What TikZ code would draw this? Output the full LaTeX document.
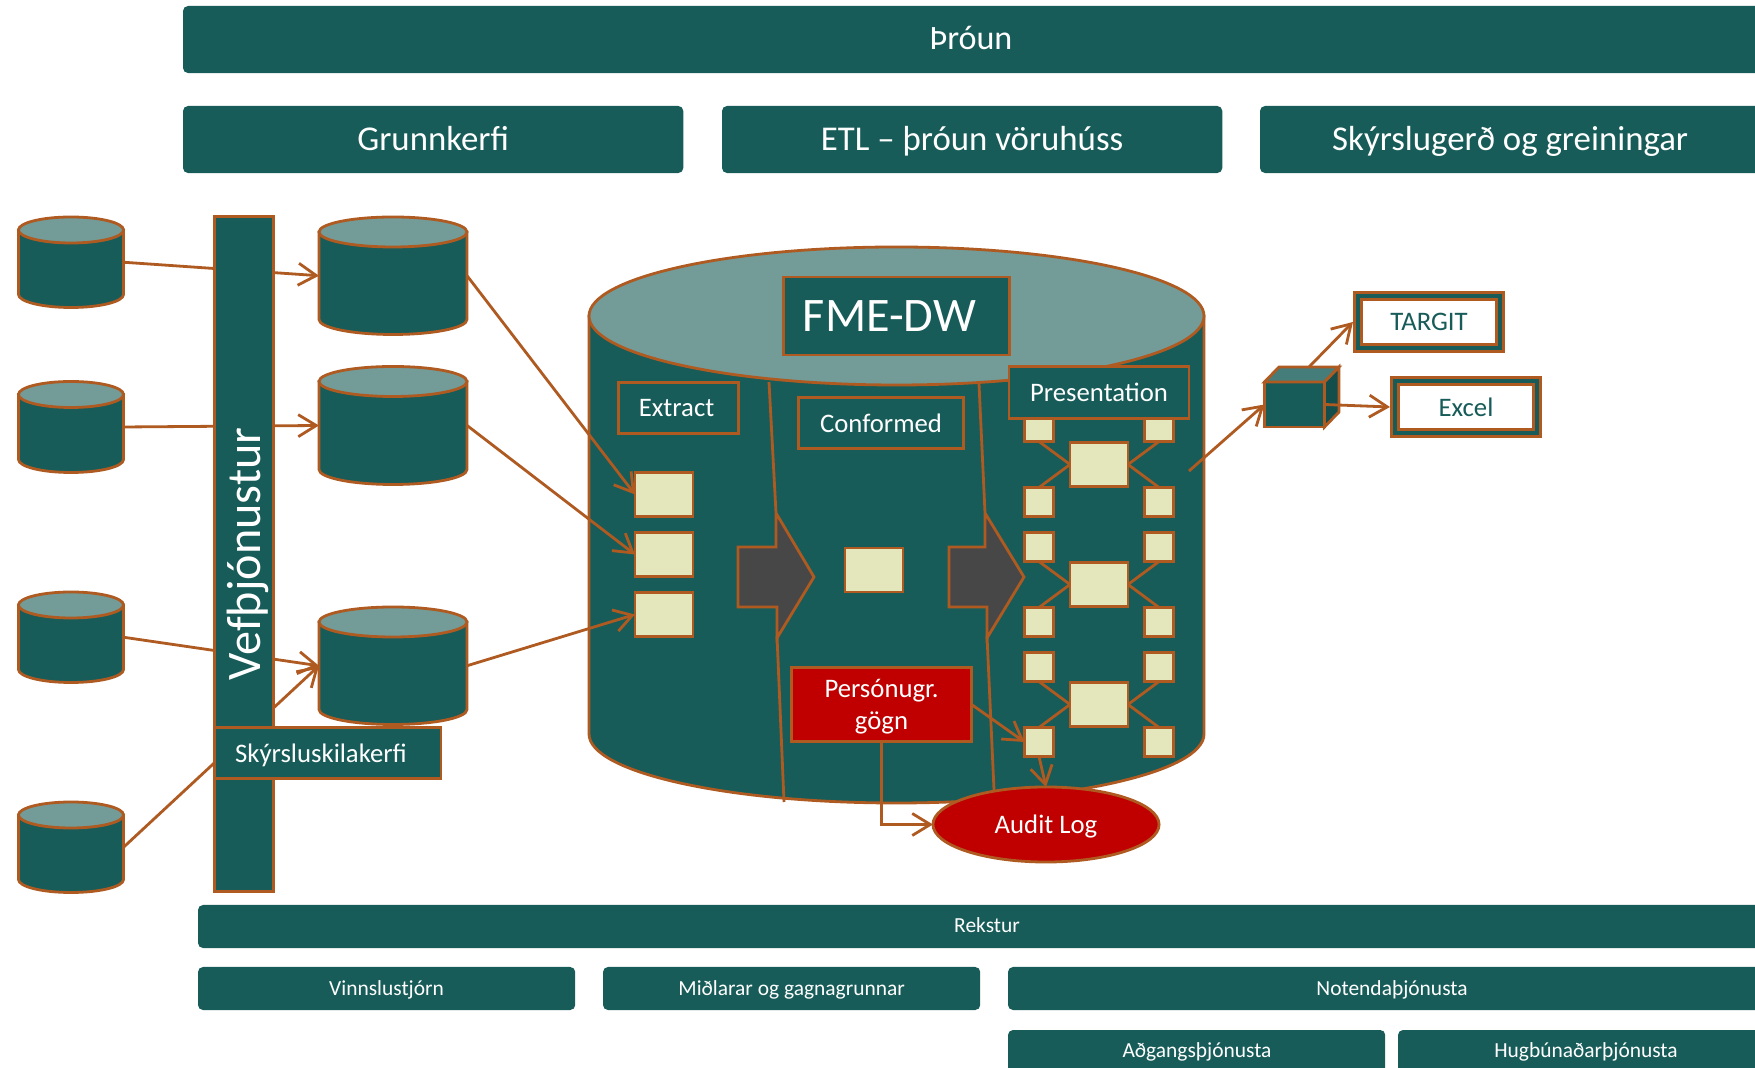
\documentclass[tikz,border=0pt]{standalone}
\usepackage{fontspec}
\setmainfont{Carlito}
\usetikzlibrary{positioning, shapes.geometric, arrows.meta}
\definecolor{tealdark}{HTML}{175C59}
\definecolor{teallight}{HTML}{739C99}
\definecolor{rust}{HTML}{AE5A21}
\definecolor{cream}{HTML}{E4E7BC}
\definecolor{greyarrow}{HTML}{474747}
\definecolor{redbox}{HTML}{C00000}
\tikzset{
    layerbig/.style={fill=tealdark, text=white, rounded corners=0.05cm, inner sep=0pt, outer sep=0pt, text height=1.4ex, text depth=0.1ex, font=\fontsize{9.9}{11}\selectfont},
    layersmall/.style={layerbig, text depth=0.6ex, font=\fontsize{6.1}{7}\selectfont},
    tagbox/.style={draw=rust, line width=0.28mm, fill=tealdark, text=white, inner sep=0pt, outer sep=0pt, text depth=0pt, font=\fontsize{7.6}{9.3}\selectfont},
    redtag/.style={tagbox, fill=redbox},
    sqbig/.style={draw=rust, line width=0.28mm, fill=cream, inner sep=0pt, outer sep=0pt, minimum width=0.58cm, minimum height=0.44cm},
    sqsmall/.style={sqbig, minimum width=0.29cm, minimum height=0.29cm},
    dbanchor/.style={inner sep=0pt, outer sep=0pt},
    dbline/.style={draw=rust, line width=0.28mm},
    toolbox/.style={draw=rust, double=tealdark, line width=0.28mm, double distance=0.4mm, fill=white, text=tealdark, inner sep=0pt, outer sep=0.5mm, minimum width=1.42cm, minimum height=0.52cm, font=\fontsize{7.6}{9.3}\selectfont},
    flow/.style={draw=rust, line width=0.28mm, -{Straight Barb[length=1.8mm, width=2.2mm]}},
    link/.style={draw=rust, line width=0.28mm},
    stagearrow/.style={draw=rust, line width=0.28mm, fill=greyarrow},
}
\newcommand{\dbcan}[6]{
        \draw[dbline, fill=tealdark] (#2-#5,#3+#6) -- (#2-#5,#4-#6) arc[start angle=180, end angle=0, x radius=#5, y radius=#6] -- (#2+#5,#3+#6) -- cycle;
        \draw[dbline, fill=teallight] (#2,#3+#6) ellipse [x radius=#5, y radius=#6];
        \node[dbanchor, minimum width=#5*0.02cm, minimum height=(#4-#3)*0.01cm] (#1) at (#2,{(#3+#4)/2}) {};
}
\begin{document}
\begin{tikzpicture}[x=0.01cm, y=-0.01cm]
        \clip (0,0) rectangle (1755,1068);
        \useasboundingbox (0,0) rectangle (1755,1068);

        \node[layerbig, minimum width=15.9cm, minimum height=0.67cm, anchor=north west] (throun) at (183,6) {};
        \node at (971,38) [text=white, font=\fontsize{9.7}{11}\selectfont] (thrountext) {Þróun};
        \node[layerbig, minimum width=5cm, minimum height=0.67cm, anchor=north west] (grunn) at (183,106) {Grunnkerfi};
        \node[layerbig, minimum width=5cm, minimum height=0.67cm, anchor=north west] (etl) at (722,106) {ETL – þróun vöruhúss};
        \node[layerbig, minimum width=5cm, minimum height=0.67cm, anchor=north west] (skyrslur) at (1260,106) {Skýrslugerð og greiningar};

        \dbcan{dbone}{71}{217}{307.5}{52.5}{13}
        \dbcan{dbtwo}{71}{381.5}{472.5}{52.5}{13}
        \dbcan{dbthree}{71}{592}{682.5}{52.5}{13}
        \dbcan{dbfour}{71}{802}{892.5}{52.5}{13}
        \dbcan{midone}{393}{217}{334.5}{74}{15}
        \dbcan{midtwo}{393}{366.5}{484.5}{74}{15}
        \dbcan{midthree}{393}{607}{724.5}{74}{15}

        \draw[flow] (dbone.east) -- (midone.west);
        \draw[flow] (dbtwo.east) -- (midtwo.west);
        \draw[flow] (dbthree.east) -- (midthree.west);
        \draw[flow] (dbfour.east) -- (midthree.west);

        \node[tagbox, rotate=90, minimum width=6.74cm, minimum height=0.59cm, font=\fontsize{13.7}{15}\selectfont] (vef) at (244,554) {Vefþjónustur};
        \node[tagbox, minimum width=2.26cm, minimum height=0.51cm] (skil) at (328,753) {Skýrsluskilakerfi\hspace{0.14cm}\mbox{}};

        \dbcan{dw}{896.5}{247}{803}{307.5}{69}
        \node[tagbox, minimum width=2.26cm, minimum height=0.78cm, font=\fontsize{13.7}{16}\selectfont] (fme) at (896.5,316) {FME-DW\hspace{0.14cm}\mbox{}};
        \node[tagbox, minimum width=1.2cm, minimum height=0.51cm] (extract) at (678.5,408) {Extract\hspace{0.04cm}\mbox{}};
        \node[tagbox, minimum width=1.65cm, minimum height=0.51cm] (conformed) at (881,423) {Conformed};

        \node[sqbig] (exone) at (664,494.5) {};
        \node[sqbig] (extwo) at (664,554.5) {};
        \node[sqbig] (exthree) at (664,614.5) {};
        \node[sqbig] (conf) at (874,570) {};

        \draw[flow] (midone.east) -- (exone.west);
        \draw[flow] (midtwo.east) -- (extwo.west);
        \draw[flow] (midthree.east) -- (exthree.west);

        \draw[stagearrow] (769,382) -- (776,513) -- (776,547) -- (738,547) -- (738,607) -- (777,607) -- (777,638) -- (814,577) -- (776,513);
        \draw[link] (777,636) -- (784,802);
        \draw[stagearrow] (979,384) -- (985,513) -- (985,547) -- (949,547) -- (949,607) -- (987,607) -- (987,638) -- (1024,577) -- (985,513);
        \draw[link] (987,636) -- (994,790);

        \node[sqsmall] (ga) at (1039,427) {};
        \node[sqsmall] (gb) at (1159,427) {};
        \node[sqbig] (gc) at (1099,464.5) {};
        \node[sqsmall] (gd) at (1039,502) {};
        \node[sqsmall] (ge) at (1159,502) {};
        \node[sqsmall] (ha) at (1039,547) {};
        \node[sqsmall] (hb) at (1159,547) {};
        \node[sqbig] (hc) at (1099,584.5) {};
        \node[sqsmall] (hd) at (1039,622) {};
        \node[sqsmall] (he) at (1159,622) {};
        \node[sqsmall] (ia) at (1039,667) {};
        \node[sqsmall] (ib) at (1159,667) {};
        \node[sqbig] (ic) at (1099,704.5) {};
        \node[sqsmall] (id) at (1039,742) {};
        \node[sqsmall] (ie) at (1159,742) {};

        \draw[link] (ga.south) -- (gc.west);
        \draw[link] (gd.north) -- (gc.west);
        \draw[link] (gb.south) -- (gc.east);
        \draw[link] (ge.north) -- (gc.east);
        \draw[link] (ha.south) -- (hc.west);
        \draw[link] (hd.north) -- (hc.west);
        \draw[link] (hb.south) -- (hc.east);
        \draw[link] (he.north) -- (hc.east);
        \draw[link] (ia.south) -- (ic.west);
        \draw[link] (id.north) -- (ic.west);
        \draw[link] (ib.south) -- (ic.east);
        \draw[link] (ie.north) -- (ic.east);

        \node[tagbox, minimum width=1.8cm, minimum height=0.52cm] (present) at (1099,392.5) {Presentation};
        \node[redtag, align=center, minimum width=1.8cm, minimum height=0.74cm] (person) at (881.5,704.5) {Persónugr.\\gögn};
        \node[ellipse, redtag, minimum width=2.26cm, minimum height=0.75cm] (audit) at (1046,824.5) {Audit Log};

        \draw[flow] (person.east) -- (id.west);
        \draw[flow] (id.south) -- (audit.north);
        \draw[flow] (person.south) |- (audit.west);

        \node[tagbox, minimum width=0.6cm, minimum height=0.45cm] (cube) at (1294.5,404.5) {};
        \coordinate (cubetop) at (1309,367);
        \coordinate (cubeback) at (1339,367);
        \coordinate (cubeleft) at (1279,367);
        \coordinate (cubelow) at (1339,412);
        \draw[link, fill=tealdark!80!white] (cube.north west) -- (cubeleft) -- (cubeback) -- (cube.north east) -- cycle;
        \draw[link, fill=tealdark!85!black] (cube.north east) -- (cubeback) -- (cubelow) -- (cube.south east) -- cycle;

        \node[toolbox] (targit) at (1429,322) {TARGIT};
        \node[toolbox] (excel) at (1466,407) {Excel};
        \coordinate (dwout) at (1189,471);
        \draw[flow] (dwout) -- (cube.west);
        \draw[flow] (cubetop) -- (targit.west);
        \draw[flow] (cube.east) -- (excel.west);

        \node[layersmall, minimum width=15.7cm, minimum height=0.43cm, anchor=north west] (rekstur) at (198,905) {};
        \node at (987,925) [text=white, font=\fontsize{6.1}{7}\selectfont] (reksturtext) {Rekstur};
        \node[layersmall, minimum width=3.77cm, minimum height=0.43cm, anchor=north west] (vinnsla) at (198,967) {Vinnslustjórn};
        \node[layersmall, minimum width=3.77cm, minimum height=0.43cm, anchor=north west] (midlarar) at (603,967) {Miðlarar og gagnagrunnar};
        \node[layersmall, minimum width=7.6cm, minimum height=0.43cm, anchor=north west] (notenda) at (1008,967) {};
        \node at (1392,989.5) [text=white, font=\fontsize{6.1}{7}\selectfont] (notendatext) {Notendaþjónusta};
        \node[layersmall, minimum width=3.77cm, minimum height=0.5cm, anchor=north west] (adgangs) at (1008,1030) {};
        \node at (1197,1052) [text=white, font=\fontsize{6.1}{7}\selectfont] (adgangstext) {Aðgangsþjónusta};
        \node[layersmall, minimum width=3.77cm, minimum height=0.5cm, anchor=north west] (hugbunadur) at (1398,1030) {};
        \node at (1586,1052) [text=white, font=\fontsize{6.1}{7}\selectfont] (hugbunadurtext) {Hugbúnaðarþjónusta};
    \end{tikzpicture}
\end{document}
